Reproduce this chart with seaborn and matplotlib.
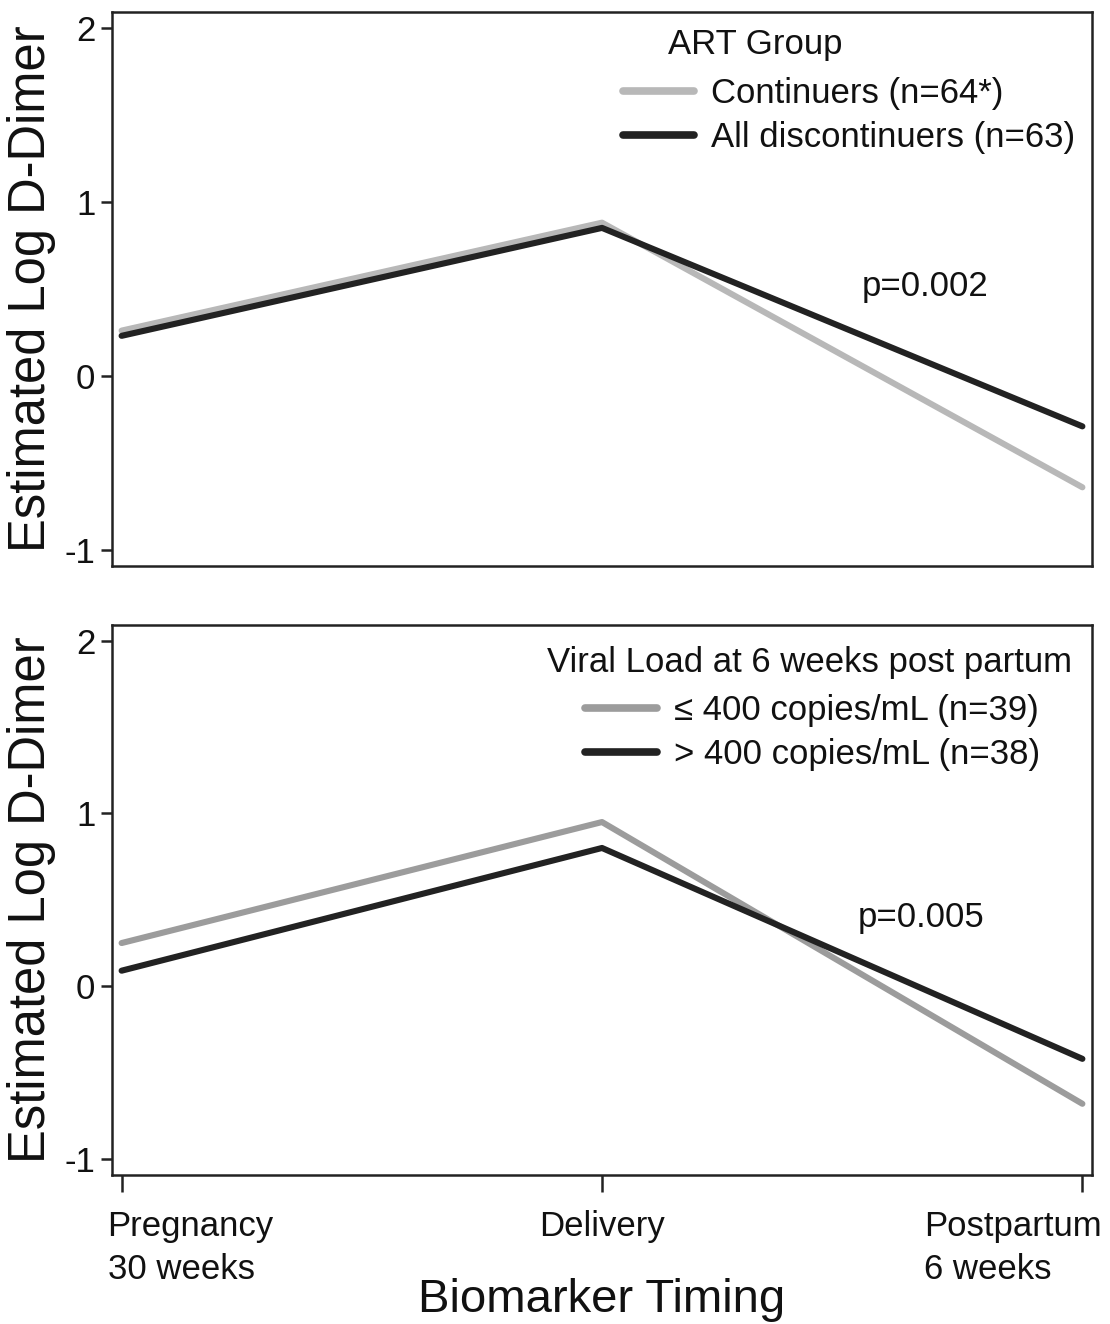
import matplotlib
matplotlib.use("Agg")
import matplotlib.pyplot as plt
import matplotlib.transforms as mtransforms
import seaborn as sns
import pandas as pd

# ---- data ----
timing_labels = ["Pregnancy\n30 weeks", "Delivery", "Postpartum\n6 weeks"]
timing_pos = [0, 1, 2]

art_groups = ["Continuers (n=64*)", "All discontinuers (n=63)"]
art_continuers = [0.26, 0.88, -0.64]
art_discontinuers = [0.23, 0.85, -0.29]

vl_groups = ["\u2264 400 copies/mL (n=39)", "> 400 copies/mL (n=38)"]
vl_low = [0.25, 0.95, -0.68]
vl_high = [0.09, 0.80, -0.42]

p_top = "p=0.002"
p_bottom = "p=0.005"

top_df = pd.DataFrame({
    "time": timing_pos * 2,
    "value": art_continuers + art_discontinuers,
    "group": [art_groups[0]] * 3 + [art_groups[1]] * 3,
})
bot_df = pd.DataFrame({
    "time": timing_pos * 2,
    "value": vl_low + vl_high,
    "group": [vl_groups[0]] * 3 + [vl_groups[1]] * 3,
})

sns.set_theme(style="white")
plt.rcParams["font.family"] = ["Liberation Sans", "DejaVu Sans"]
plt.rcParams["text.color"] = "#111111"

W, H = 1110, 1324
fig = plt.figure(figsize=(W / 100, H / 100), dpi=100)

def px_axes(l, t, r, b):
    return fig.add_axes([l / W, 1 - b / H, (r - l) / W, (b - t) / H])

ax1 = px_axes(112, 12, 1092, 566)
ax2 = px_axes(112, 625, 1092, 1175)

FS = 25
lw = 4.4
sns.lineplot(data=top_df, x="time", y="value", hue="group",
             palette={art_groups[0]: "#b8b8b8", art_groups[1]: "#222222"},
             hue_order=art_groups, linewidth=lw, ax=ax1, legend=True)
sns.lineplot(data=bot_df, x="time", y="value", hue="group",
             palette={vl_groups[0]: "#9c9c9c", vl_groups[1]: "#222222"},
             hue_order=vl_groups, linewidth=lw, ax=ax2, legend=True)

for ax in (ax1, ax2):
    ax.set_xlim(-0.02, 2.02)
    ax.set_ylim(-1.092, 2.09)
    ax.set_yticks([-1, 0, 1, 2])
    ax.set_yticklabels(["-1", "0", "1", "2"])
    for s in ax.spines.values():
        s.set_visible(True)
        s.set_color("#222222")
        s.set_linewidth(1.8)
    ax.tick_params(axis="y", which="both", left=True, length=8, width=1.8,
                   color="#222222", labelsize=FS, pad=4, labelcolor="#111111")
    ax.set_ylabel("Estimated Log D-Dimer", fontsize=36.5, labelpad=6, color="#111111")
    ax.set_xlabel("")

ax1.set_xticks([])
ax2.set_xticks(timing_pos)
ax2.set_xticklabels(timing_labels)
ax2.tick_params(axis="x", bottom=True, length=12, width=1.8, color="#222222",
                labelsize=FS, pad=13, labelcolor="#111111")
tl = ax2.get_xticklabels()
tl[0].set_ha("left")
tl[0].set_multialignment("left")
tl[0].set_transform(tl[0].get_transform() + mtransforms.ScaledTranslation(-14 / 100, 0, fig.dpi_scale_trans))
tl[2].set_ha("right")
tl[2].set_multialignment("left")
tl[2].set_transform(tl[2].get_transform() + mtransforms.ScaledTranslation(19 / 100, 0, fig.dpi_scale_trans))
for t in tl:
    t.set_linespacing(1.38)
ax2.set_xlabel("Biomarker Timing", fontsize=34, color="#111111")
ax2.xaxis.set_label_coords(0.5, -0.188)

# legends
leg1 = ax1.legend(loc="upper left", bbox_to_anchor=(0.521, 0.883), frameon=False,
                  fontsize=FS, handlelength=2.07, handletextpad=0.49,
                  labelspacing=0.33, borderpad=0, borderaxespad=0)
for l in leg1.get_lines():
    l.set_linewidth(5.5)
ax1.text(0.656, 0.942, "ART Group", transform=ax1.transAxes, ha="center", va="center",
         fontsize=FS, color="#111111")

leg2 = ax2.legend(loc="upper left", bbox_to_anchor=(0.483, 0.875), frameon=False,
                  fontsize=FS, handlelength=2.07, handletextpad=0.49,
                  labelspacing=0.33, borderpad=0, borderaxespad=0)
for l in leg2.get_lines():
    l.set_linewidth(5.5)
ax2.text(0.712, 0.932, "Viral Load at 6 weeks post partum", transform=ax2.transAxes,
         ha="center", va="center", fontsize=FS, color="#111111")

ax1.text(0.83, 0.504, p_top, transform=ax1.transAxes, ha="center", va="center",
         fontsize=FS, color="#111111")
ax2.text(0.826, 0.469, p_bottom, transform=ax2.transAxes, ha="center", va="center",
         fontsize=FS, color="#111111")

fig.savefig("out.png", dpi=100, facecolor="white")
